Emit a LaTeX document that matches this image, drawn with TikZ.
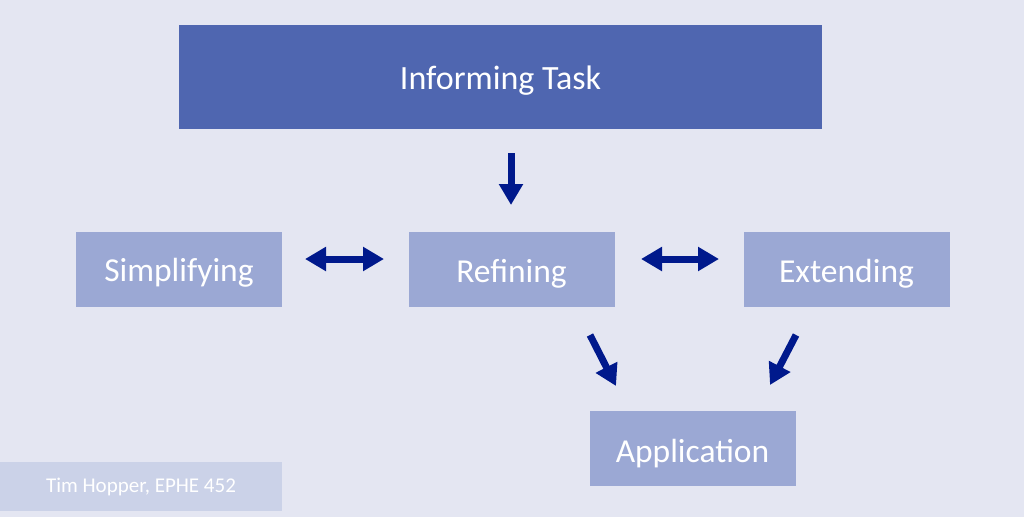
\documentclass[tikz,border=0pt]{standalone}
\usepackage{fontspec}
\setmainfont{Carlito}
\usetikzlibrary{arrows.meta}
\definecolor{bg}{RGB}{228,230,242}
\definecolor{topblue}{RGB}{79,102,176}
\definecolor{lightbox}{RGB}{155,168,212}
\definecolor{footbox}{RGB}{203,210,232}
\definecolor{navy}{RGB}{0,25,140}
\tikzset{
  topbox/.style={fill=topblue, text=white, minimum width=643pt, minimum height=104pt, inner sep=0pt, font=\fontsize{34}{40}\selectfont, text height=31pt, text depth=7pt},
  stagebox/.style={fill=lightbox, text=white, minimum width=206pt, minimum height=75pt, inner sep=0pt, font=\fontsize{33.5}{40}\selectfont, text height=32pt, text depth=7pt},
  footer/.style={fill=footbox, text=white, minimum width=282pt, minimum height=49pt, inner sep=0pt, font=\fontsize{21}{24}\selectfont},
  bigarrow/.style={draw=navy, line width=7pt, -{Triangle[length=21pt, width=23pt]}},
  dblarrow/.style={draw=navy, line width=7pt, {Triangle[length=21pt, width=23pt]}-{Triangle[length=21pt, width=23pt]}},
}
\begin{document}
\begin{tikzpicture}[x=1pt, y=-1pt]
\fill[bg] (0,0) rectangle (1024,517);
\useasboundingbox (0,0) rectangle (1024,517);
\node[topbox] (inf) at (500.5,77) {Informing Task};
\node[stagebox] (sim) at (179,269) {Simplifying};
\node[stagebox] (ref) at (511.5,269.5) {Refining};
\node[stagebox] (ext) at (846.5,269.5) {Extending};
\node[stagebox, text height=36pt] (app) at (692.5,448) {Application};
\node[footer] (foot) at (141,486.5) {Tim Hopper, EPHE 452};
\coordinate (a1s) at (511,153);
\coordinate (a1e) at (511,205);
\coordinate (a2l) at (305,259);
\coordinate (a2r) at (384,259);
\coordinate (a3l) at (641,259);
\coordinate (a3r) at (719,259);
\coordinate (a4s) at (590,335);
\coordinate (a4e) at (616,386);
\coordinate (a5s) at (796,335);
\coordinate (a5e) at (770,385);
\draw[bigarrow] (a1s) -- (a1e);
\draw[dblarrow] (a2l) -- (a2r);
\draw[dblarrow] (a3l) -- (a3r);
\draw[bigarrow] (a4s) -- (a4e);
\draw[bigarrow] (a5s) -- (a5e);
\end{tikzpicture}
\end{document}
